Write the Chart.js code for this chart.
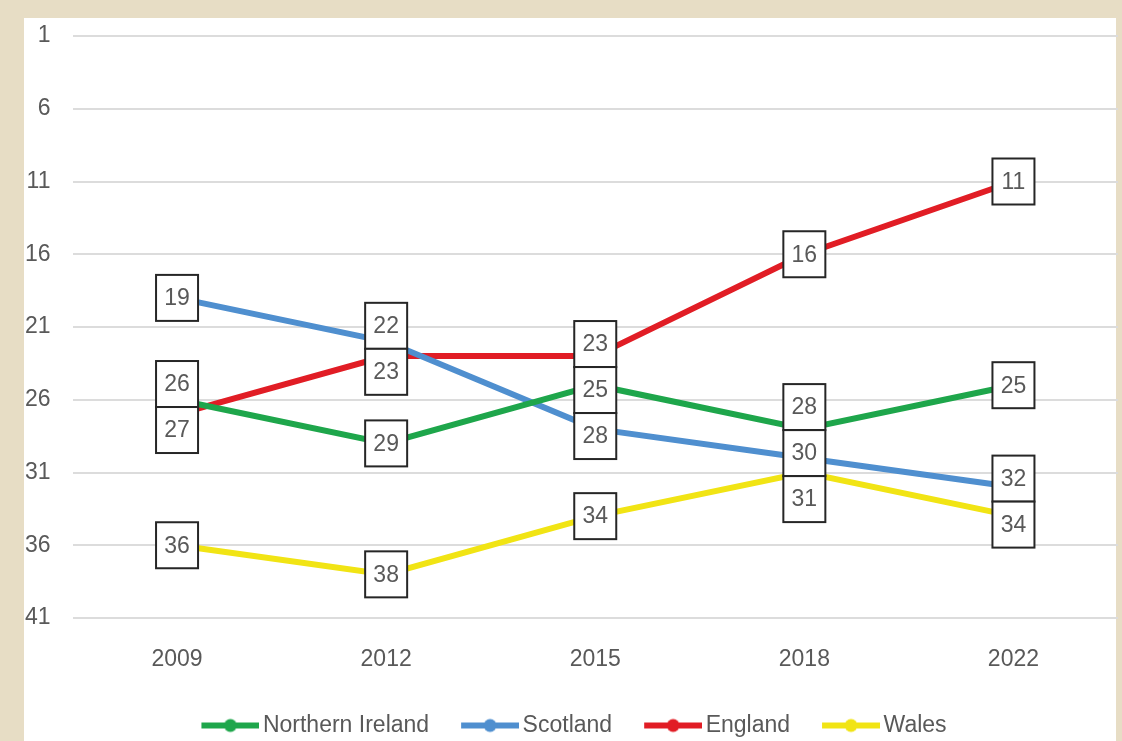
<!DOCTYPE html>
<html>
<head>
<meta charset="utf-8">
<script src="https://cdn.jsdelivr.net/npm/chart.js@4/dist/chart.umd.min.js"></script>
<style>
  html, body { margin: 0; padding: 0; background: #e7ddc5; overflow: hidden; }
  #paper { position: absolute; left: 24px; top: 18px; width: 1092px; height: 723px; background: #fff; }
  #rankChart { position: absolute; left: 0; top: 0; }
</style>
</head>
<body>
<div id="paper"></div>
<canvas id="rankChart" width="1122" height="747"></canvas>
<script>
const years = ['2009', '2012', '2015', '2018', '2022'];
const northernIreland = [26, 29, 25, 28, 25];
const scotland = [19, 22, 28, 30, 32];
const england = [27, 23, 23, 16, 11];
const wales = [36, 38, 34, 31, 34];
const rankTicks = [1, 6, 11, 16, 21, 26, 31, 36, 41];

const FONT = '"Liberation Sans", Arial, sans-serif';
const GREY = '#595959';

function legendMarker(color) {
  const c = document.createElement('canvas');
  c.width = 96;
  c.height = 16;
  const g = c.getContext('2d');
  g.strokeStyle = color;
  g.lineWidth = 6;
  g.beginPath();
  g.moveTo(38, 8);
  g.lineTo(96, 8);
  g.stroke();
  g.fillStyle = color;
  g.beginPath();
  g.arc(67, 8, 6.5, 0, Math.PI * 2);
  g.fill();
  return c;
}

// boxed value labels, stacked when they would overlap at the same year
const boxLabels = {
  id: 'boxLabels',
  afterDatasetsDraw(chart) {
    const ctx = chart.ctx;
    const w = 42, h = 46;
    years.forEach((_, i) => {
      const items = chart.data.datasets.map((ds, d) => {
        const pt = chart.getDatasetMeta(d).data[i];
        return { x: pt.x, y: pt.y, text: String(ds.data[i]) };
      }).sort((a, b) => a.y - b.y);

      let groups = items.map((it) => ({ items: [it], c: it.y }));
      let merged = true;
      while (merged) {
        merged = false;
        for (let g = 0; g < groups.length - 1; g++) {
          const a = groups[g], b = groups[g + 1];
          if (a.c + a.items.length * h / 2 > b.c - b.items.length * h / 2 + 1) {
            const all = a.items.concat(b.items);
            groups.splice(g, 2, { items: all, c: all.reduce((s, t) => s + t.y, 0) / all.length });
            merged = true;
            break;
          }
        }
      }

      ctx.save();
      ctx.font = '23px ' + FONT;
      ctx.textAlign = 'center';
      ctx.textBaseline = 'middle';
      groups.forEach((grp) => {
        let top = grp.c - grp.items.length * h / 2;
        grp.items.forEach((it) => {
          ctx.fillStyle = '#fff';
          ctx.fillRect(it.x - w / 2, top, w, h);
          ctx.strokeStyle = '#262626';
          ctx.lineWidth = 2;
          ctx.strokeRect(it.x - w / 2, top, w, h);
          ctx.fillStyle = GREY;
          ctx.fillText(it.text, it.x, top + h / 2 + 1);
          top += h;
        });
      });
      ctx.restore();
    });
  }
};

const series = [
  { label: 'Northern Ireland', data: northernIreland, color: '#1ea64b' },
  { label: 'Scotland', data: scotland, color: '#4f8fcf' },
  { label: 'England', data: england, color: '#e11d25' },
  { label: 'Wales', data: wales, color: '#f1e414' }
];
const markers = series.map((s) => legendMarker(s.color));

new Chart(document.getElementById('rankChart'), {
  type: 'line',
  data: {
    labels: years,
    datasets: series.map((s) => ({
      label: s.label,
      data: s.data,
      borderColor: s.color,
      backgroundColor: s.color,
      borderWidth: 6,
      pointRadius: 0,
      tension: 0
    }))
  },
  options: {
    responsive: false,
    animation: false,
    layout: { padding: { top: 36, right: 4, left: 0, bottom: 0 } },
    plugins: {
      tooltip: { enabled: false },
      legend: {
        position: 'bottom',
        labels: {
          usePointStyle: true,
          pointStyleWidth: 80,
          padding: 2,
          color: GREY,
          font: { family: FONT, size: 23 },
          generateLabels: (chart) => chart.data.datasets.map((ds, i) => ({
            text: ds.label,
            pointStyle: markers[i],
            fillStyle: ds.borderColor,
            strokeStyle: ds.borderColor,
            fontColor: GREY,
            lineWidth: 0,
            hidden: false,
            datasetIndex: i
          }))
        }
      }
    },
    scales: {
      x: {
        offset: true,
        grid: { display: false },
        border: { display: false },
        ticks: { color: GREY, font: { family: FONT, size: 23 }, padding: 20 },
        afterFit: (scale) => { scale.height = 94; }
      },
      y: {
        reverse: true,
        min: 1,
        max: 41,
        afterBuildTicks: (scale) => { scale.ticks = rankTicks.map((v) => ({ value: v })); },
        grid: { color: '#dcdcdc', lineWidth: 2, drawTicks: false },
        border: { display: false },
        ticks: { color: GREY, font: { family: FONT, size: 23 }, padding: 22 },
        afterFit: (scale) => { scale.width = 72.5; }
      }
    }
  },
  plugins: [boxLabels]
});
</script>
</body>
</html>
